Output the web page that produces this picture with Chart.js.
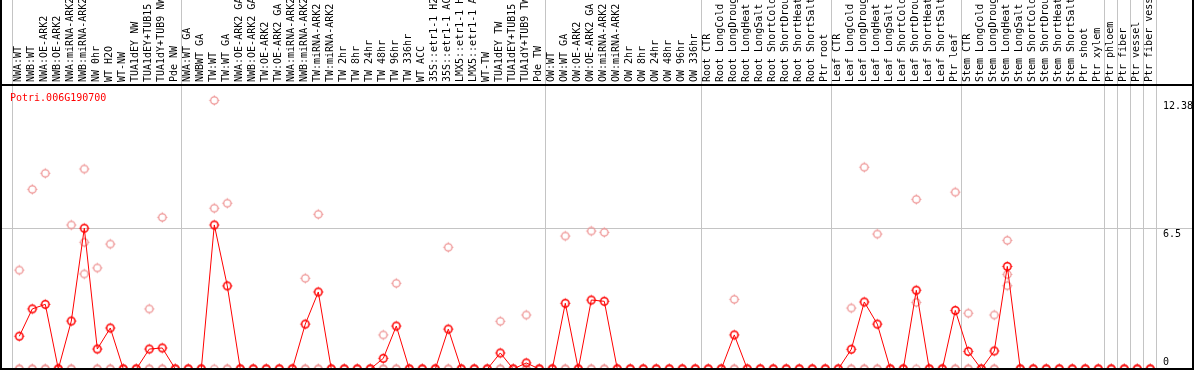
<!DOCTYPE html>
<html>
<head>
<meta charset="utf-8">
<script src="https://cdn.jsdelivr.net/npm/chart.js@4.4.1/dist/chart.umd.min.js"></script>
<style>
  html, body { margin: 0; padding: 0; background: #fff; }
  #wrap { width: 1194px; height: 370px; }
</style>
</head>
<body>
<div id="wrap"><canvas id="expr" width="1194" height="370"></canvas></div>
<script>
// sample names, in plot order
const samples = [
  'NWA:WT', 'NWB:WT', 'NWA:OE-ARK2', 'NWB:OE-ARK2', 'NWA:miRNA-ARK2', 'NWB:miRNA-ARK2', 'NW 0hr', 'WT H2O',
  'WT-NW', 'TUA1dEY NW', 'TUA1dEY+TUB15 NW', 'TUA1dY+TUB9 NW', 'Pde NW',
  'NWA:WT GA', 'NWBWT GA', 'TW:WT', 'TW:WT GA', 'NWA:OE-ARK2 GA', 'NWB:OE-ARK2 GA', 'TW:OE-ARK2', 'TW:OE-ARK2 GA',
  'NWA:miRNA-ARK2 GA', 'NWB:miRNA-ARK2 GA', 'TW:miRNA-ARK2', 'TW:miRNA-ARK2 GA', 'TW 2hr', 'TW 8hr', 'TW 24hr',
  'TW 48hr', 'TW 96hr', 'TW 336hr', 'WT ACC', '35S::etr1-1 H2O', '35S::etr1-1 ACC', 'LMX5::etr1-1 H2O',
  'LMX5::etr1-1 ACC', 'WT-TW', 'TUA1dEY TW', 'TUA1dEY+TUB15 TW', 'TUA1dY+TUB9 TW', 'Pde TW',
  'OW:WT', 'OW:WT GA', 'OW:OE-ARK2', 'OW:OE-ARK2 GA', 'OW:miRNA-ARK2', 'OW:miRNA-ARK2 GA', 'OW 2hr', 'OW 8hr',
  'OW 24hr', 'OW 48hr', 'OW 96hr', 'OW 336hr',
  'Root CTR', 'Root LongCold', 'Root LongDrought', 'Root LongHeat', 'Root LongSalt', 'Root ShortCold',
  'Root ShortDrought', 'Root ShortHeat', 'Root ShortSalt', 'Ptr root',
  'Leaf CTR', 'Leaf LongCold', 'Leaf LongDrought', 'Leaf LongHeat', 'Leaf LongSalt', 'Leaf ShortCold',
  'Leaf ShortDrought', 'Leaf ShortHeat', 'Leaf ShortSalt', 'Ptr leaf',
  'Stem CTR', 'Stem LongCold', 'Stem LongDrought', 'Stem LongHeat', 'Stem LongSalt', 'Stem ShortCold',
  'Stem ShortDrought', 'Stem ShortHeat', 'Stem ShortSalt', 'Ptr shoot', 'Ptr xylem',
  'Ptr phloem', 'Ptr fiber', 'Ptr vessel', 'Ptr fiber vessel'
];

// mean expression (red line)
const meanExpr = [
  1.51, 2.77, 2.98, 0, 2.21, 6.49, 0.92, 1.89, 0, 0, 0.92, 0.97, 0,
  0, 0, 6.64, 3.83, 0, 0, 0, 0, 0, 2.07, 3.55, 0, 0, 0, 0, 0.49, 1.98, 0, 0, 0, 1.84, 0, 0, 0, 0.74, 0, 0.28, 0,
  0, 3.03, 0, 3.18, 3.12, 0, 0, 0, 0, 0, 0, 0,
  0, 0, 1.57, 0, 0, 0, 0, 0, 0, 0,
  0, 0.91, 3.09, 2.07, 0, 0, 3.63, 0, 0, 2.70,
  0.81, 0, 0.83, 4.73, 0, 0, 0, 0, 0, 0, 0,
  0, 0, 0, 0
];

// single replicates (pink circles)
const rep1 = [
  4.56, 8.28, 9.02, 0, 6.64, 9.22, 4.66, 5.76, 0, 0, 2.77, 6.99, 0,
  0, 0, 12.38, 7.64, 0, 0, 0, 0, 0, 4.18, 7.13, 0, 0, 0, 0, 1.57, 3.95, 0, 0, 0, 5.61, 0, 0, 0, 2.20, 0, 2.49, 0,
  0, 6.13, 0, 6.36, 6.30, 0, 0, 0, 0, 0, 0, 0,
  0, 0, 3.21, 0, 0, 0, 0, 0, 0, 0,
  0, 2.81, 9.30, 6.22, 0, 0, 7.82, 0, 0, 8.15,
  2.57, 0, 2.49, 5.93, 0, 0, 0, 0, 0, 0, 0,
  0, 0, 0, 0
];
const rep2 = [
  0, 0, 0, 0, 0, 5.84, 0, 0, 0, 0, 0, 0, 0,
  0, 0, 7.41, 0, 0, 0, 0, 0, 0, 0, 0, 0, 0, 0, 0, 0, 0, 0, 0, 0, 0, 0, 0, 0, 0, 0, 0, 0,
  0, 0, 0, 0, 0, 0, 0, 0, 0, 0, 0, 0,
  0, 0, 0, 0, 0, 0, 0, 0, 0, 0,
  0, 0, 0, 0, 0, 0, 3.07, 0, 0, 0,
  0, 0, 0, 4.36, 0, 0, 0, 0, 0, 0, 0,
  0, 0, 0, 0
];
const rep3 = [
  0, 0, 0, 0, 0, 4.38, 0, 0, 0, 0, 0, 0, 0,
  0, 0, 0, 0, 0, 0, 0, 0, 0, 0, 0, 0, 0, 0, 0, 0, 0, 0, 0, 0, 0, 0, 0, 0, 0, 0, 0, 0,
  0, 0, 0, 0, 0, 0, 0, 0, 0, 0, 0, 0,
  0, 0, 0, 0, 0, 0, 0, 0, 0, 0,
  0, 0, 0, 0, 0, 0, 0, 0, 0, 0,
  0, 0, 0, 3.84, 0, 0, 0, 0, 0, 0, 0,
  0, 0, 0, 0
];

const yTicks = [0, 6.5, 12.38];
// index of the first sample after each grey separator
const groupBreaks = [0, 13, 41, 53, 63, 73, 84, 85, 86, 87, 88];
const geneId = 'Potri.006G190700';

const MONO = '"DejaVu Sans Mono", monospace';

function ringMarker(color, lw) {
  const c = document.createElement('canvas');
  c.width = 13; c.height = 13;
  const g = c.getContext('2d');
  g.strokeStyle = color;
  g.lineWidth = lw;
  g.beginPath();
  g.arc(6.5, 6.5, 3.7, 0, Math.PI * 2);
  g.stroke();
  g.fillStyle = color;
  g.fillRect(6, 1.5, 1, 1.5);
  g.fillRect(6, 10, 1, 1.5);
  g.fillRect(1.5, 6, 1.5, 1);
  g.fillRect(10, 6, 1.5, 1);
  return c;
}
const redMark = ringMarker('#ff0000', 1.5);
const pinkMark = ringMarker('#ee9494', 1.3);

const frame = {
  id: 'frame',
  beforeDatasetsDraw(chart) {
    const {ctx, scales: {x, y}} = chart;
    const step = x.getPixelForValue(1) - x.getPixelForValue(0);
    ctx.save();
    ctx.fillStyle = '#c4c4c4';
    groupBreaks.forEach(b => {
      const px = Math.round(x.getPixelForValue(0) + b * step - 7.6);
      ctx.fillRect(px, 0, 1, chart.height);
    });
    ctx.fillRect(0, Math.round(y.getPixelForValue(yTicks[1])), chart.width, 1);
    ctx.restore();
  },
  afterDraw(chart) {
    const {ctx, scales: {y}} = chart;
    ctx.save();
    ctx.fillStyle = '#000';
    ctx.fillRect(0, 0, 2, chart.height);
    ctx.fillRect(chart.width - 2, 0, 2, chart.height);
    ctx.fillRect(0, 84, chart.width, 2);
    ctx.fillRect(0, 368, chart.width, 2);

    ctx.font = '10px ' + MONO;
    ctx.textAlign = 'left';
    ctx.textBaseline = 'alphabetic';
    yTicks.forEach(v => {
      const py = y.getPixelForValue(v);
      ctx.fillText(String(v), 1163, v === 0 ? py - 4 : py + 9);
    });

    ctx.fillStyle = '#ff0000';
    ctx.fillText(geneId, 10, 101);
    ctx.restore();
  }
};

new Chart(document.getElementById('expr'), {
  type: 'line',
  data: {
    labels: samples,
    datasets: [
      { label: 'mean', data: meanExpr, borderColor: '#ff0000', borderWidth: 1, pointStyle: redMark, pointRadius: 4, tension: 0, clip: false },
      { label: 'rep1', data: rep1, showLine: false, pointStyle: pinkMark, pointRadius: 4, clip: false },
      { label: 'rep2', data: rep2, showLine: false, pointStyle: pinkMark, pointRadius: 4, clip: false },
      { label: 'rep3', data: rep3, showLine: false, pointStyle: pinkMark, pointRadius: 4, clip: false }
    ]
  },
  options: {
    responsive: false,
    animation: false,
    events: [],
    layout: { autoPadding: false, padding: { left: 12.8, right: 37.2, top: 0, bottom: 1 } },
    plugins: { legend: { display: false }, tooltip: { enabled: false } },
    scales: {
      x: {
        position: 'top',
        offset: true,
        grid: { display: false, drawTicks: false },
        border: { display: false },
        ticks: {
          autoSkip: false, minRotation: 90, maxRotation: 90, padding: 3, labelOffset: 11.5,
          color: '#000', font: { family: MONO, size: 10 }
        },
        afterFit: s => { s.height = 85; }
      },
      y: { display: false, min: 0, max: 13.09 }
    }
  },
  plugins: [frame]
});
</script>
</body>
</html>
